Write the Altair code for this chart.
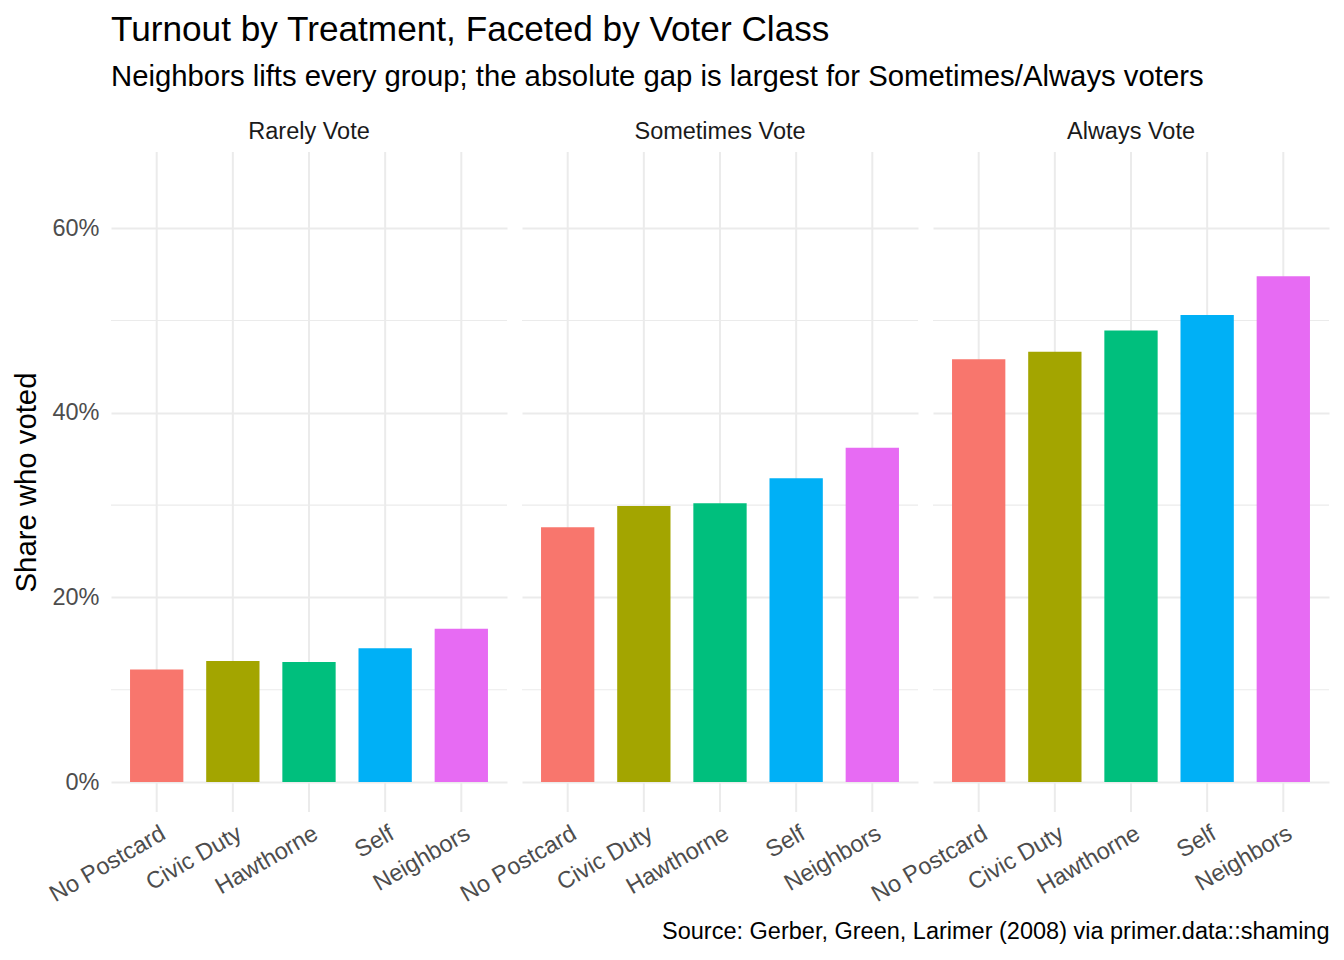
import altair as alt
import pandas as pd

classes = ["Rarely Vote", "Sometimes Vote", "Always Vote"]
treatments = ["No Postcard", "Civic Duty", "Hawthorne", "Self", "Neighbors"]
rarely = [0.122, 0.131, 0.130, 0.145, 0.166]
sometimes = [0.276, 0.299, 0.302, 0.329, 0.362]
always = [0.458, 0.466, 0.489, 0.506, 0.548]
colors = ["#F8766D", "#A3A500", "#00BF7D", "#00B0F6", "#E76BF3"]
major_ticks = [0, 0.2, 0.4, 0.6]
minor_ticks = [0.1, 0.3, 0.5]

W, H = 396, 660
FONT = "Liberation Sans"
GRID = "#EBEBEB"

series = {"Rarely Vote": rarely, "Sometimes Vote": sometimes, "Always Vote": always}

minor_df = pd.DataFrame({"v": minor_ticks})


def panel(cls, idx):
    df = pd.DataFrame({"treatment": treatments, "share": series[cls]})
    first = idx == 0
    last = idx == len(classes) - 1
    xaxis = alt.Axis(
        labelAngle=-30, labelAlign="right", labelBaseline="top",
        labelFontSize=23.5, labelColor="#4D4D4D", labelFont=FONT,
        labelPadding=9, labelOffset=1,
        ticks=False, domain=False, grid=False,
        title="Source: Gerber, Green, Larimer (2008) via primer.data::shaming" if last else None,
        titleFontSize=23.5, titleFont=FONT, titleColor="#000000", titleFontWeight="normal",
        titleAnchor="end", titleAlign="right", titlePadding=13,
    )
    yaxis = alt.Axis(
        values=major_ticks, format=".0%",
        labels=first, labelFontSize=23.5, labelColor="#4D4D4D", labelFont=FONT,
        labelPadding=12,
        ticks=False, domain=False, grid=True, gridColor=GRID, gridWidth=2,
        title="Share who voted" if first else None,
        titleFontSize=29.3, titleFont=FONT, titleColor="#000000", titleFontWeight="normal",
        titlePadding=10,
    )
    xs = alt.Scale(domain=treatments, paddingInner=0.3, paddingOuter=0.25)
    ys = alt.Scale(domain=[-0.0325, 0.6825], nice=False, zero=False)

    minor = alt.Chart(minor_df).mark_rule(color=GRID, strokeWidth=1.1).encode(
        y=alt.Y("v:Q", scale=ys, axis=yaxis),
        x=alt.value(0), x2=alt.value(W),
    )
    vgrid = alt.Chart(df).mark_rule(color=GRID, strokeWidth=2).encode(
        x=alt.X("treatment:N", scale=xs, axis=xaxis, sort=treatments),
        y=alt.value(0), y2=alt.value(H),
    )
    bars = alt.Chart(df).mark_bar().encode(
        x=alt.X("treatment:N", scale=xs, axis=xaxis, sort=treatments),
        y=alt.Y("share:Q", scale=ys, axis=yaxis),
        y2=alt.datum(0),
        color=alt.Color("treatment:N", scale=alt.Scale(domain=treatments, range=colors), legend=None),
    )
    return alt.layer(minor, vgrid, bars).properties(
        width=W, height=H,
        title=alt.TitleParams(cls, fontSize=23.5, font=FONT, color="#1A1A1A",
                              fontWeight="normal", anchor="middle", offset=8),
    )


chart = alt.hconcat(*[panel(c, i) for i, c in enumerate(classes)], spacing=15, bounds="flush").properties(
    title=alt.TitleParams(
        "Turnout by Treatment, Faceted by Voter Class",
        subtitle="Neighbors lifts every group; the absolute gap is largest for Sometimes/Always voters",
        fontSize=35.2, subtitleFontSize=29.3, font=FONT, subtitleFont=FONT,
        color="#000000", subtitleColor="#000000", fontWeight="normal",
        anchor="start", frame="group", offset=27, subtitlePadding=15,
    ),
    padding={"left": 4, "top": 5, "right": 5, "bottom": 5},
).configure_view(stroke="transparent", strokeWidth=0)

chart.save("out.html", embed_options={"renderer": "svg", "actions": False})
